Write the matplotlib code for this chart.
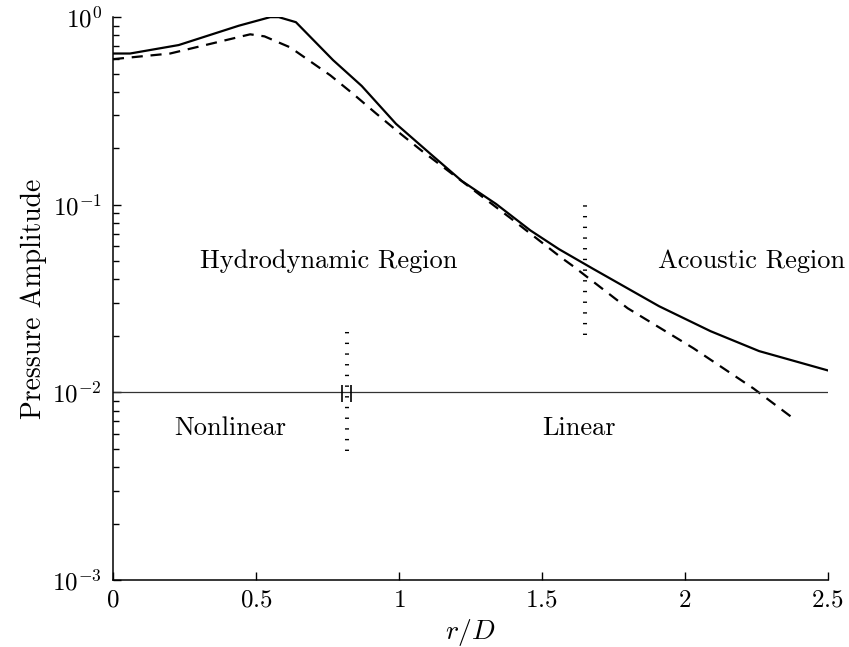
import numpy as np
import matplotlib
matplotlib.use("Agg")
import matplotlib.pyplot as plt
from matplotlib.ticker import FuncFormatter, LogLocator, NullFormatter

plt.rcParams["font.family"] = "serif"
plt.rcParams["font.serif"] = ["cmr10", "DejaVu Serif"]
plt.rcParams["mathtext.fontset"] = "cm"
plt.rcParams["axes.formatter.use_mathtext"] = True
plt.rcParams["axes.unicode_minus"] = False

# full (nonlinear) solution
r_full = [0.0, 0.06, 0.23, 0.44, 0.55, 0.58, 0.64, 0.77, 0.87, 0.99, 1.11, 1.22,
          1.34, 1.46, 1.56, 1.68, 1.91, 2.09, 2.26, 2.50]
p_full = [0.64, 0.64, 0.71, 0.90, 1.0, 1.0, 0.94, 0.59, 0.43, 0.27, 0.187, 0.134,
          0.101, 0.073, 0.058, 0.0455, 0.0288, 0.0212, 0.0166, 0.0131]

# linear (hydrodynamic) model
r_lin = [0.0, 0.20, 0.48, 0.53, 0.62, 0.76, 0.84, 0.92, 1.00, 1.08, 1.39, 1.57,
         1.61, 1.80, 2.03, 2.24, 2.38]
p_lin = [0.597, 0.64, 0.81, 0.79, 0.69, 0.49, 0.39, 0.307, 0.243, 0.194, 0.085,
         0.052, 0.047, 0.0281, 0.0172, 0.0105, 0.00726]

THRESH = 1e-2          # nonlinear/linear threshold
R_NONLIN = 0.818       # where the full solution drops below threshold
R_ACOUSTIC = 1.65      # hydrodynamic -> acoustic transition

fig = plt.figure(figsize=(8.49, 6.47), dpi=100)
ax = fig.add_axes([0.133, 0.1035, 0.842, 0.870])

ax.plot(r_full, p_full, color="k", lw=1.6)
ax.plot(r_lin, p_lin, color="k", lw=1.6, ls=(0, (5, 3.5)))
ax.axhline(THRESH, color="#333333", lw=0.9)

# region boundaries: short thick dashes stacked vertically
dot = (0, (1 / 2.9, 6.7 / 2.9))
ax.vlines(R_NONLIN, 0.0049, 0.0215, color="k", lw=2.9, linestyles=[dot])
ax.vlines(R_ACOUSTIC, 0.0202, 0.1, color="k", lw=2.9, linestyles=[dot])
ax.vlines([R_NONLIN - 0.016, R_NONLIN + 0.016], 0.0089, 0.011, color="k", lw=1.2)

fs = 19
ax.text(0.755, 0.050, "Hydrodynamic Region", ha="center", va="center", fontsize=fs)
ax.text(1.906, 0.050, "Acoustic Region", ha="left", va="center", fontsize=fs)
ax.text(0.41, 0.00645, "Nonlinear", ha="center", va="center", fontsize=fs)
ax.text(1.63, 0.00645, "Linear", ha="center", va="center", fontsize=fs)

ax.set_yscale("log")
ax.set_xlim(0, 2.5)
ax.set_ylim(1e-3, 1)
ax.set_xticks([0, 0.5, 1, 1.5, 2, 2.5])
ax.xaxis.set_major_formatter(FuncFormatter(lambda v, _: f"${v:g}$"))
ax.yaxis.set_major_locator(LogLocator(base=10, numticks=10))
ax.yaxis.set_minor_locator(LogLocator(base=10, subs=np.arange(2, 10), numticks=10))
ax.yaxis.set_minor_formatter(NullFormatter())
ax.tick_params(which="both", direction="in", labelsize=18)
ax.tick_params(which="major", length=6, width=1)
ax.tick_params(which="minor", length=4, width=1)
ax.tick_params(axis="x", pad=7)
ax.tick_params(axis="y", pad=8)

for s in ("top", "right"):
    ax.spines[s].set_visible(False)
for s in ("left", "bottom"):
    ax.spines[s].set_linewidth(1.1)

ax.set_xlabel("$r/D$", fontsize=20, labelpad=4)
ax.set_ylabel("Pressure Amplitude", fontsize=20, labelpad=4)

fig.savefig("out.png", dpi=100)
